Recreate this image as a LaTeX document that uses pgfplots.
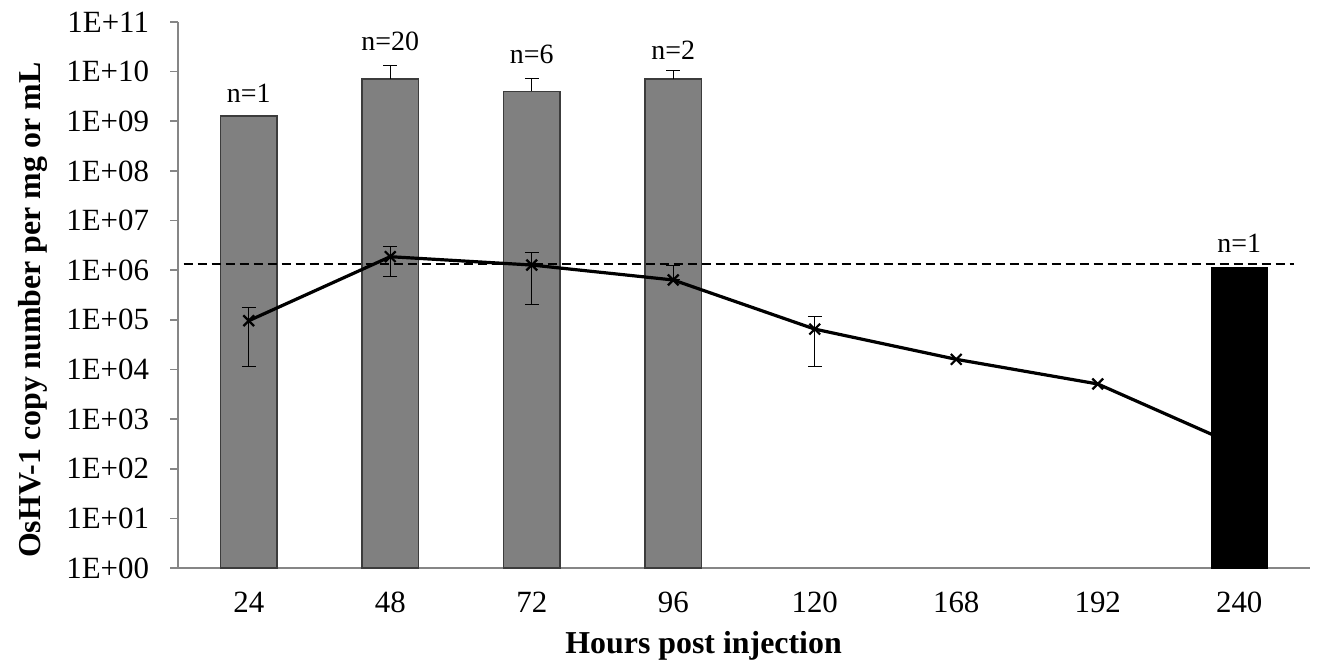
\documentclass[border=0pt]{standalone}
\usepackage{pgfplots}
\pgfplotsset{compat=1.18}
\usepackage{fontspec}
\setmainfont{Liberation Serif}
\usetikzlibrary{calc}

\definecolor{axgray}{RGB}{134,134,134}
\definecolor{barfill}{RGB}{128,128,128}
\definecolor{baredge}{RGB}{60,60,60}

\begin{document}
\begin{tikzpicture}
\begin{axis}[
  scale only axis, width=566bp, height=273bp,
  ymode=log, ymin=1, ymax=1e11,
  xmin=-0.5, xmax=7.5,
  axis lines*=left, axis line style={draw=axgray, line width=0.8bp, -},
  tick align=outside,
  xtick={0,...,7}, xticklabels={24,48,72,96,120,168,192,240},
  x tick style={draw=none},
  extra x ticks={-0.5,0.5,1.5,2.5,3.5,4.5,5.5,6.5,7.5},
  extra x tick labels={},
  extra x tick style={major tick length=4.5bp, tick style={draw=axgray, line width=0.8bp}},
  xticklabel style={yshift=-4.5bp},
  ytick={1,1e1,1e2,1e3,1e4,1e5,1e6,1e7,1e8,1e9,1e10,1e11},
  yticklabels={1E+00,1E+01,1E+02,1E+03,1E+04,1E+05,1E+06,1E+07,1E+08,1E+09,1E+10,1E+11},
  yticklabel style={xshift=-7bp},
  yminorticks=false,
  y tick style={draw=axgray, line width=0.8bp},
  major tick length=4bp,
  tick label style={font=\fontsize{15.5}{18}\selectfont},
  label style={font=\bfseries\fontsize{16}{19}\selectfont},
  xlabel={Hours post injection},
  ylabel={OsHV-1 copy number per mg or mL},
  xlabel style={at={(axis description cs:0.4643,-0.142)}, anchor=center},
  ylabel style={at={(axis description cs:-0.1277,0.472)}, anchor=center},
  clip=false,
]
% gray bars
\addplot[ybar, bar width=0.4, bar shift=0pt, fill=barfill, draw=baredge, line width=0.6bp]
  coordinates {(0,1.28e9) (1,7.1e9) (2,4.0e9) (3,7.1e9)};
% error bars on the bars (upper only)
\addplot[only marks, mark size=0pt, mark options={draw=none, fill=none},
  error bars/.cd, y dir=plus, y explicit,
  error bar style={draw=black, line width=0.5bp},
  error mark options={draw=black, rotate=90, mark size=3.5bp, line width=0.5bp}]
  coordinates {(1,7.1e9) += (0,5.9e9) (2,4.0e9) += (0,3.2e9) (3,7.1e9) += (0,3.2e9)};
% mean line
\addplot[black, line width=1.6bp, mark=x, mark size=3.8bp, mark options={line width=1.1bp}]
  coordinates {(0,9.6e4) (1,1.87e6) (2,1.27e6) (3,6.35e5) (4,6.5e4) (5,1.6e4) (6,5.1e3) (7,2.8e2)};
% error bars on the line
\addplot[only marks, mark size=0pt, mark options={draw=none, fill=none},
  error bars/.cd, y dir=both, y explicit,
  error bar style={draw=black, line width=0.5bp},
  error mark options={draw=black, rotate=90, mark size=3.5bp, line width=0.5bp}]
  coordinates {
  (0,9.6e4) += (0,8.3e4) -= (0,8.43e4)
  (1,1.87e6) += (0,1.11e6) -= (0,1.13e6)
  (2,1.27e6) += (0,1.02e6) -= (0,1.064e6)
  (3,6.35e5) += (0,6.35e5) -= (0,0)
  (4,6.5e4) += (0,5.1e4) -= (0,5.33e4)
  };
% black bar
\addplot[ybar, bar width=0.4, bar shift=0pt, fill=black, draw=black]
  coordinates {(7,1.14e6)};
% threshold
\addplot[black, line width=0.6bp, dash pattern=on 4.5bp off 2.5bp]
  coordinates {(-0.46,1.33e6) (7.39,1.33e6)};
% sample sizes
\addplot[draw=none, mark=none, nodes near coords, point meta=explicit symbolic,
  every node near coord/.append style={anchor=center, font=\fontsize{14}{16}\selectfont}]
  coordinates {(0,3.7e9)[n=1] (1,4.0e10)[n=20] (2,2.27e10)[n=6] (3,2.73e10)[n=2] (7,3.5e6)[n=1]};
\end{axis}
\pgfresetboundingbox
\path[use as bounding box] ($(current axis.south west)+(-89bp,-46.5bp)$) rectangle ($(current axis.north east)+(3.5bp,11bp)$);
\end{tikzpicture}
\end{document}
